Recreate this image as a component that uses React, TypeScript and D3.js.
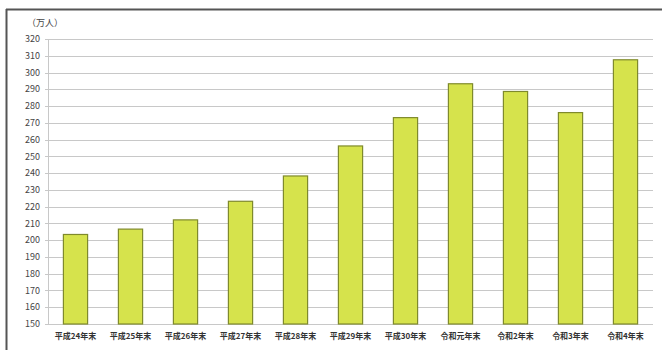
import React, { useRef, useEffect } from 'react';
import * as d3 from 'd3';

const categories = ['平成24年末', '平成25年末', '平成26年末', '平成27年末', '平成28年末', '平成29年末', '平成30年末', '令和元年末', '令和2年末', '令和3年末', '令和4年末'];
const residents = [203.4, 206.6, 212.1, 223.2, 238.3, 256.2, 273.1, 293.3, 288.7, 276.1, 307.6];
const yTicks = d3.range(150, 321, 10);
const unitLabel = '（万人）';

const App = () => {
  const svgRef = useRef<SVGSVGElement>(null);
  const width = 662;
  const height = 350;
  const margin = { top: 39, right: 9, bottom: 25, left: 48 };

  useEffect(() => {
    const svg = d3.select(svgRef.current);
    svg.selectAll('*').remove();

    const x = d3.scaleBand()
      .domain(categories)
      .range([margin.left, width - margin.right])
      .paddingInner(0.56)
      .paddingOuter(0.28);
    const y = d3.scaleLinear()
      .domain([150, 320])
      .range([height - margin.bottom - 1, margin.top]);

    // frame
    svg.append('line')
      .attr('x1', 6).attr('x2', width).attr('y1', 9.5).attr('y2', 9.5)
      .attr('stroke', '#555').attr('stroke-width', 2);
    svg.append('line')
      .attr('x1', 6.5).attr('x2', 6.5).attr('y1', 9).attr('y2', height)
      .attr('stroke', '#555').attr('stroke-width', 2);

    // grid
    svg.append('g')
      .selectAll('line')
      .data(yTicks)
      .enter()
      .append('line')
        .attr('x1', margin.left - 3)
        .attr('x2', width - margin.right)
        .attr('y1', d => Math.round(y(d)) + 0.5)
        .attr('y2', d => Math.round(y(d)) + 0.5)
        .attr('stroke', '#c8c8c8');
    svg.append('line')
      .attr('x1', margin.left + 0.5).attr('x2', margin.left + 0.5)
      .attr('y1', y(320)).attr('y2', y(150))
      .attr('stroke', '#c8c8c8');

    // y labels
    svg.append('g')
      .selectAll('text')
      .data(yTicks)
      .enter()
      .append('text')
        .attr('x', margin.left - 8)
        .attr('y', d => y(d))
        .attr('dy', '0.35em')
        .attr('text-anchor', 'end')
        .attr('font-family', '"Noto Sans CJK JP", sans-serif')
        .attr('font-size', 9)
        .attr('fill', '#444')
        .text(d => d);

    svg.append('text')
      .attr('x', 27).attr('y', 26)
      .attr('font-family', '"Noto Sans CJK JP", sans-serif')
      .attr('font-size', 9)
      .attr('fill', '#444')
      .text(unitLabel);

    // bars
    svg.append('g')
      .selectAll('rect')
      .data(residents)
      .enter()
      .append('rect')
        .attr('x', (d, i) => x(categories[i]))
        .attr('y', d => y(d))
        .attr('width', x.bandwidth())
        .attr('height', d => y(150) - y(d))
        .attr('fill', '#d6e34c')
        .attr('stroke', '#7f8a2c')
        .attr('stroke-width', 1.2);

    // x labels
    svg.append('g')
      .selectAll('text')
      .data(categories)
      .enter()
      .append('text')
        .attr('x', d => x(d) + x.bandwidth() / 2)
        .attr('y', height - 11)
        .attr('text-anchor', 'middle')
        .attr('font-family', '"Noto Sans CJK JP", sans-serif')
        .attr('font-size', 8)
        .attr('font-weight', 'bold')
        .attr('fill', '#333')
        .text(d => d);
  }, []);

  return (
    <svg
      ref={svgRef}
      width={width}
      height={height}
      style={{ position: 'absolute', left: 0, top: 0, background: '#fff' }}
    />
  );
};

export default App;
